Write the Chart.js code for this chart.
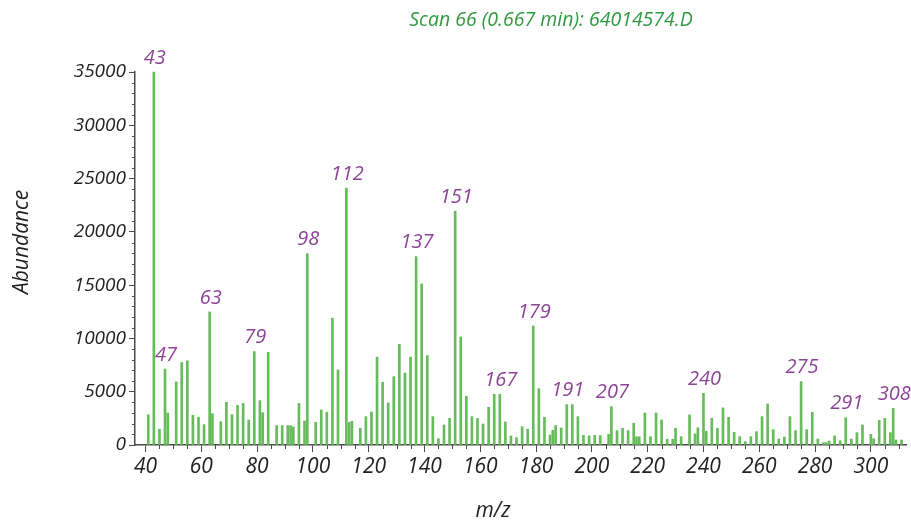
<!DOCTYPE html>
<html><head><meta charset="utf-8">
<script src="https://cdn.jsdelivr.net/npm/chart.js@4.4.1/dist/chart.umd.min.js"></script>
<style>html,body{margin:0;padding:0;background:#fff;}#wrap{width:911px;height:524px;position:relative;}</style>
</head><body><div id="wrap"><canvas id="c" width="911" height="524"></canvas></div>
<script>
const mzValues = [41,43,45,47,48,51,53,55,57,59,61,63,64,67,69,71,73,75,77,79,81,82,84,87,89,91,92,93,95,97,98,
  101,103,105,107,109,112,113,114,117,119,121,123,125,127,129,131,133,135,137,139,141,143,145,147,149,
  151,153,155,157,159,161,163,165,167,169,171,173,175,177,179,181,183,185,186,187,189,191,193,195,197,199,
  201,203,206,207,209,211,213,215,216,217,219,221,223,225,227,229,230,232,235,237,238,240,241,243,245,247,249,
  251,253,255,257,259,261,263,265,267,269,271,273,275,277,279,281,283,284,285,287,289,291,293,295,297,
  300,301,303,305,307,308,309,311];
const abundances = [2830,35000,1480,7120,3000,5920,7740,7900,2780,2600,1910,12490,2940,2190,4010,2850,3720,3910,2350,8760,4160,3030,8700,1820,1820,1820,1820,1700,3900,2250,17960,
  2140,3290,3070,11900,7040,24100,2130,2220,1570,2660,3100,8240,5890,3950,6410,9450,6760,8240,17680,15120,8390,2660,590,1880,2500,
  21940,10140,4570,2660,2500,1970,3540,4760,4760,2160,850,690,1720,1480,11170,5290,2600,940,1380,1820,1600,3790,3790,2660,910,850,
  910,880,1000,3600,1350,1570,1350,2040,780,780,3000,780,3000,2350,540,540,1570,780,2820,1030,1620,4850,1290,2500,1570,3480,2600,
  1190,780,310,780,1250,2660,3850,1440,560,750,2660,1350,5950,1440,3070,560,220,220,380,850,400,2560,560,1160,1880,
  1000,590,2320,2500,1160,3450,470,470];
const labeledPeaks = [43,47,63,79,98,112,137,151,167,179,191,207,240,275,291,308];
const xTickValues = [40,60,80,100,120,140,160,180,200,220,240,260,280,300];
const yTickValues = [0,5000,10000,15000,20000,25000,30000,35000];
const titleText = 'Scan 66 (0.667 min): 64014574.D';
const xAxisTitle = 'm/z';
const yAxisTitle = 'Abundance';

const FONT = "'Open Sans',sans-serif";
const AXIS_COLOR = '#4a4a4a';

const overlay = {
  id: 'overlay',
  afterDraw(chart) {
    const ctx = chart.ctx, xs = chart.scales.x, ys = chart.scales.y;
    const area = chart.chartArea;
    ctx.save();
    ctx.strokeStyle = AXIS_COLOR; ctx.lineWidth = 1;
    for (let v = 40; v <= 310; v += 5) {
      if (v % 20 === 0) continue;
      const px = Math.round(xs.getPixelForValue(v)) + 0.5;
      ctx.beginPath(); ctx.moveTo(px, area.bottom); ctx.lineTo(px, area.bottom + 4); ctx.stroke();
    }
    for (let v = 1000; v < 35000; v += 1000) {
      if (v % 5000 === 0) continue;
      const py = Math.round(ys.getPixelForValue(v)) + 0.5;
      ctx.beginPath(); ctx.moveTo(area.left, py); ctx.lineTo(area.left - 3, py); ctx.stroke();
    }
    ctx.fillStyle = '#8c4396';
    ctx.font = "italic 20px " + FONT;
    ctx.textAlign = 'center'; ctx.textBaseline = 'bottom';
    labeledPeaks.forEach(m => {
      const i = mzValues.indexOf(m);
      if (i < 0) return;
      ctx.fillText(String(m), xs.getPixelForValue(m) + 1, ys.getPixelForValue(abundances[i]) - 4);
    });
    ctx.fillStyle = '#2f9a40';
    ctx.font = "italic 19.5px " + FONT;
    ctx.textBaseline = 'middle';
    ctx.fillText(titleText, 551, 20);
    ctx.fillStyle = '#222';
    ctx.font = "italic 21px " + FONT;
    ctx.fillText(xAxisTitle, 493, 511);
    ctx.translate(22, 242); ctx.rotate(-Math.PI / 2);
    ctx.fillText(yAxisTitle, 0, 0);
    ctx.restore();
  }
};

new Chart(document.getElementById('c'), {
  type: 'bar',
  data: {
    datasets: [{
      data: mzValues.map((m, i) => ({ x: m, y: abundances[i] })),
      backgroundColor: '#66bb5a',
      borderWidth: 0,
      barThickness: 2,
      grouped: false,
      clip: false
    }]
  },
  options: {
    responsive: false,
    animation: false,
    devicePixelRatio: 1,
    layout: { padding: { top: 72, right: 5, left: 0, bottom: 0 } },
    plugins: { legend: { display: false }, tooltip: { enabled: false }, title: { display: false } },
    scales: {
      x: {
        type: 'linear', min: 36.24, max: 312.6, offset: false,
        afterBuildTicks: s => { s.ticks = xTickValues.map(v => ({ value: v })); },
        afterFit: s => { s.height = 79; },
        grid: { display: true, drawOnChartArea: false, drawTicks: true, tickLength: 7, color: AXIS_COLOR, offset: false },
        border: { display: true, color: AXIS_COLOR, width: 1.5 },
        ticks: { font: { family: FONT, size: 21, style: 'italic' }, color: '#222', padding: 2, maxRotation: 0, autoSkip: false, callback: v => String(v) }
      },
      y: {
        min: 0, max: 35000,
        afterBuildTicks: s => { s.ticks = yTickValues.map(v => ({ value: v })); },
        afterFit: s => { s.width = 135; },
        grid: { display: true, drawOnChartArea: false, drawTicks: true, tickLength: 6, color: AXIS_COLOR },
        border: { display: true, color: AXIS_COLOR, width: 1.5 },
        ticks: { font: { family: FONT, size: 19, style: 'italic' }, color: '#222', padding: 3, callback: v => String(v) }
      }
    }
  },
  plugins: [overlay]
});
</script></body></html>
